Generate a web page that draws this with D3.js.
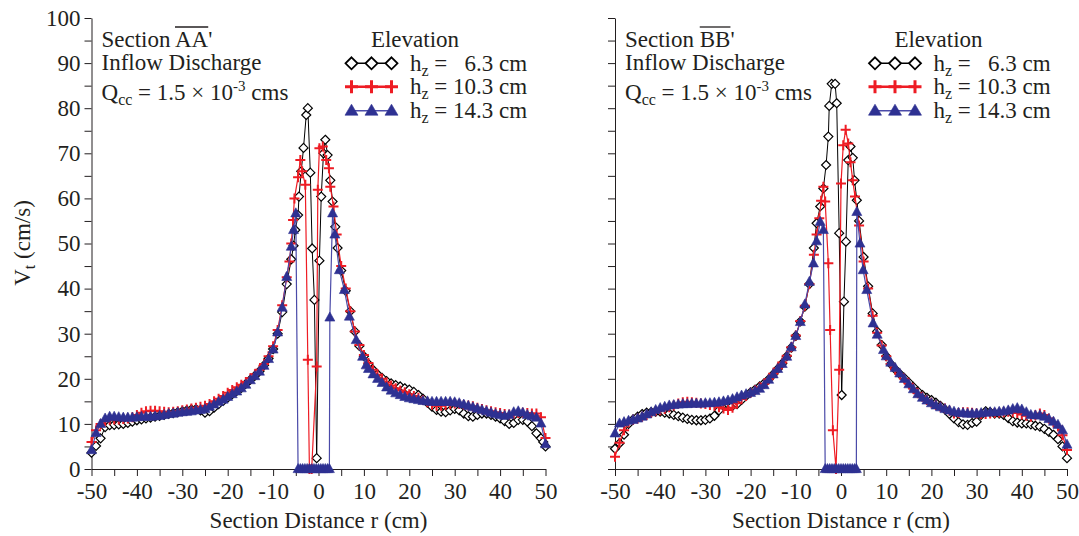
<!DOCTYPE html>
<html>
<head>
<meta charset="utf-8">
<script src="https://cdn.jsdelivr.net/npm/d3@7"></script>
<style>
  body { margin: 0; background: #fff; }
  svg text { font-family: "Liberation Serif", "Times New Roman", serif; fill: #231f20; }
</style>
</head>
<body>
<svg id="chart" width="1079" height="536"></svg>
<script>
// ticks
const xTicks = [-50, -45, -40, -35, -30, -25, -20, -15, -10, -5, 0, 5, 10, 15, 20, 25, 30, 35, 40, 45, 50];
const yTicks = [0, 5, 10, 15, 20, 25, 30, 35, 40, 45, 50, 55, 60, 65, 70, 75, 80, 85, 90, 95, 100];
const elevations = ["  6.3", "10.3", "14.3"];

// Section AA' : [r (cm), Vt (cm/s)]
const aa63 = [[-50,3.6],[-49,5.1],[-48,6.8],[-47,9.3],[-46,9.7],[-45,9.8],[-44,9.9],[-43,10.0],[-42,10.2],[-41,10.5],[-40,10.8],[-39,11.0],[-38,11.2],[-37,11.4],[-36,11.6],[-35,11.8],[-34,12.0],[-33,12.2],[-32,12.4],[-31,12.6],[-30,12.8],[-29,13.0],[-28,13.2],[-27,13.3],[-26,13.0],[-25,12.5],[-24,12.8],[-23,13.6],[-22,14.4],[-21,15.1],[-20,15.8],[-19,16.6],[-18,17.3],[-17,18.0],[-16,18.9],[-15,19.8],[-14,20.7],[-13,21.7],[-12,23.0],[-11,24.5],[-10,26.6],[-9,30.0],[-8,34.8],[-7,41.0],[-6,46.5],[-5.5,49.5],[-5.1,53],[-4.5,56.3],[-4.3,60.4],[-3.8,66],[-3.3,71.2],[-2.7,78.5],[-2.35,80],[-1.8,65.7],[-1.4,48.9],[-0.9,37.5],[-0.4,2.4],[0.2,46.2],[0.6,60.4],[1.1,70],[1.5,73],[2.0,69.6],[2.6,64],[3.1,59.3],[3.7,53.7],[4.2,49],[5,44],[6,39.5],[7,35],[8,30.5],[9,27.3],[10,25],[11,23.3],[12,22],[13,21],[14,20.2],[15,19.5],[16,19],[17,18.6],[18,18.3],[19,17.9],[20,17.6],[21,17.1],[22,16.4],[23,15.6],[24,14.7],[25,13.8],[26,13.1],[27,12.7],[28,12.6],[29,13.0],[30,13.3],[31,13.0],[32,12.3],[33,11.7],[34,11.6],[35,12.0],[36,12.3],[37,12.3],[38,12.0],[39,11.6],[40,11.2],[41,10.6],[42,10.0],[43,10.2],[44,10.9],[45,10.9],[46,10.5],[47,9.5],[48,7.9],[49,6.8],[49.5,6],[50,5]];
const aa103 = [[-50,6.0],[-49,8.6],[-48,10.0],[-47,10.6],[-46,10.9],[-45,11.0],[-44,11.0],[-43,11.1],[-42,11.2],[-41,11.5],[-40,12.0],[-39,12.5],[-38,12.8],[-37,12.9],[-36,12.9],[-35,12.8],[-34,12.7],[-33,12.6],[-32,12.7],[-31,12.8],[-30,13.0],[-29,13.2],[-28,13.4],[-27,13.6],[-26,13.8],[-25,14.0],[-24,14.4],[-23,15.0],[-22,15.6],[-21,16.2],[-20,16.9],[-19,17.5],[-18,18.1],[-17,18.7],[-16,19.3],[-15,20.1],[-14,21.0],[-13,22.0],[-12,23.3],[-11,25.0],[-10,27.2],[-9,30.8],[-8,36.3],[-7,42.5],[-6.4,46],[-6,50],[-5.6,55.2],[-5.3,60],[-4.5,64.7],[-4.0,68.5],[-3.6,66],[-2.9,63],[-2.35,24.2],[-2.0,0],[-1.5,0],[-0.4,22.7],[-0.15,61.9],[0.2,71.1],[0.95,71.5],[1.7,68.5],[2.3,66.7],[2.6,62.6],[3.3,58.2],[4,52],[5,45],[6,40],[7,35],[8,30.5],[9,27.5],[10,25.3],[11,23.5],[12,22],[13,20.9],[14,20],[15,19.2],[16,18.5],[17,17.9],[18,17.4],[19,17.0],[20,16.6],[21,16.2],[22,15.8],[23,15.3],[24,14.8],[25,14.3],[26,14.0],[27,14.0],[28,14.2],[29,14.4],[30,14.5],[31,14.4],[32,14.2],[33,14.1],[34,13.9],[35,13.6],[36,13.3],[37,13.0],[38,12.8],[39,12.6],[40,12.4],[41,12.2],[42,12.1],[43,12.2],[44,12.4],[45,12.5],[46,12.4],[47,12.3],[48,12.3],[49,11.5],[50,6.9]];
const aa143 = [[-50,4.2],[-49,8.0],[-48,10.0],[-47,11.2],[-46,11.6],[-45,11.6],[-44,11.5],[-43,11.4],[-42,11.4],[-41,11.4],[-40,11.5],[-39,11.6],[-38,11.6],[-37,11.6],[-36,11.7],[-35,11.8],[-34,12.0],[-33,12.2],[-32,12.3],[-31,12.5],[-30,12.6],[-29,12.7],[-28,12.8],[-27,13.0],[-26,13.1],[-25,13.3],[-24,13.8],[-23,14.3],[-22,14.9],[-21,15.4],[-20,16.0],[-19,16.6],[-18,17.2],[-17,17.9],[-16,18.7],[-15,19.7],[-14,20.6],[-13,21.6],[-12,22.9],[-11,24.4],[-10,26.5],[-9,30.3],[-8,35.8],[-7,42.6],[-6,49.3],[-5.5,53],[-5,56.7],[-4.5,0],[-4,0],[-3.5,0],[-3,0],[-2.5,0],[-2,0],[-1.5,0],[-1,0],[-0.5,0],[0,0],[0.5,0],[1,0],[1.5,0],[2,0],[2.4,0],[2.5,33.6],[3.1,56.7],[3.6,52],[4.6,44.1],[5.7,39.7],[6.8,33.8],[8.3,28.6],[9.7,24.9],[10.5,23.0],[11,22.2],[12,21.0],[13,20.0],[14,19.1],[15,18.1],[16,17.4],[17,16.8],[18,16.4],[19,16.0],[20,15.7],[21,15.5],[22,15.3],[23,15.1],[24,15.0],[25,14.9],[26,14.9],[27,14.9],[28,14.9],[29,14.9],[30,14.8],[31,14.6],[32,14.3],[33,14.0],[34,13.7],[35,13.4],[36,13.1],[37,12.8],[38,12.5],[39,12.2],[40,12.0],[41,11.8],[42,12.0],[43,12.6],[44,12.8],[45,12.5],[46,12.0],[47,11.7],[48,11.4],[49,10.1],[50,5.5]];

// Section BB'
const bb63 = [[-50,4.5],[-49,5.7],[-48,7.6],[-47,10.0],[-46,11.0],[-45,11.6],[-44,12.2],[-43,12.5],[-42,12.6],[-41,12.7],[-40,12.7],[-39,12.5],[-38,12.3],[-37,12.0],[-36,11.7],[-35,11.4],[-34,11.1],[-33,10.9],[-32,10.8],[-31,10.8],[-30,10.9],[-29,11.2],[-28,11.8],[-27,13.0],[-26,14.3],[-25,14.4],[-24,14.0],[-23,14.4],[-22,15.3],[-21,16.2],[-20,17.0],[-19,17.6],[-18,18.3],[-17,19.0],[-16,19.9],[-15,21.0],[-14,22.2],[-13,23.4],[-12,25.0],[-11,26.9],[-10,29.5],[-9,32.7],[-8,36.0],[-7,41],[-6,49],[-5.4,54.5],[-4.6,58.2],[-3.9,62.2],[-3.3,67.4],[-2.8,73.7],[-2.6,80.5],[-2.05,85.4],[-1.3,85.4],[-0.95,81.1],[-0.4,52.3],[0.15,16.4],[0.65,37.1],[1.1,50.4],[1.6,68.5],[2.1,71.5],[2.6,69],[3.0,64],[3.5,59.6],[4,55],[5,47],[6,40.5],[7,34.5],[8,30.5],[9,27.5],[10,25],[11,23.3],[12,22.1],[13,21.1],[14,20.2],[15,19.2],[16,18.2],[17,17.2],[18,16.4],[19,15.8],[20,15.3],[21,14.7],[22,14.0],[23,13.2],[24,12.2],[25,11.2],[26,10.4],[27,9.9],[28,9.8],[29,10.2],[30,10.5],[31,12.0],[32,12.8],[33,12.6],[34,12.3],[35,12.3],[36,12.0],[37,11.3],[38,10.6],[39,10.3],[40,10.1],[41,10.1],[42,9.9],[43,9.6],[44,9.4],[45,8.9],[46,8.2],[47,7.6],[48,6.6],[49,5.0],[50,2.4]];
const bb103 = [[-50,2.7],[-49,5.8],[-48,8.6],[-47,10.3],[-46,10.9],[-45,11.2],[-44,11.6],[-43,12.0],[-42,12.4],[-41,12.8],[-40,13.0],[-39,13.3],[-38,13.7],[-37,14.1],[-36,14.5],[-35,14.8],[-34,14.9],[-33,14.8],[-32,14.7],[-31,14.5],[-30,14.4],[-29,14.2],[-28,14.0],[-27,13.7],[-26,13.4],[-25,13.1],[-24,13.6],[-23,14.6],[-22,15.5],[-21,16.2],[-20,16.9],[-19,17.5],[-18,18.1],[-17,18.9],[-16,19.9],[-15,21.1],[-14,22.3],[-13,23.6],[-12,25.1],[-11,27.0],[-10,29.6],[-9,32.8],[-8,36.2],[-7,41],[-6,47.5],[-5.4,52],[-4.8,55.6],[-4.4,59.5],[-3.9,62.6],[-3.5,59.3],[-2.8,45.6],[-2.4,30.8],[-1.8,8.6],[-1.1,0],[-0.4,22],[0.0,63.3],[0.5,71.8],[1.03,75.2],[1.6,72.2],[2.1,68],[2.6,64],[3.1,60.4],[4,54],[5,46],[6,40],[7,34],[8,30.2],[9,27.4],[10,25],[11,23.3],[12,22.0],[13,21.0],[14,20.0],[15,18.9],[16,17.8],[17,16.8],[18,16.0],[19,15.3],[20,14.7],[21,14.2],[22,13.8],[23,13.4],[24,12.9],[25,12.3],[26,12.4],[27,12.6],[28,12.6],[29,12.5],[30,12.3],[31,12.2],[32,12.2],[33,12.3],[34,12.4],[35,12.5],[36,12.6],[37,12.7],[38,12.6],[39,12.4],[40,12.1],[41,11.8],[42,11.6],[43,11.9],[44,12.3],[45,12.0],[46,11.2],[47,10.3],[48,9.4],[49,7.5],[50,4.2]];
const bb143 = [[-50,7.9],[-49,10.1],[-48,10.4],[-47,10.7],[-46,10.9],[-45,11.2],[-44,11.6],[-43,12.1],[-42,12.6],[-41,13.1],[-40,13.5],[-39,13.8],[-38,14.1],[-37,14.2],[-36,14.3],[-35,14.4],[-34,14.4],[-33,14.5],[-32,14.5],[-31,14.5],[-30,14.6],[-29,14.6],[-28,14.7],[-27,14.8],[-26,15.0],[-25,15.2],[-24,15.5],[-23,15.9],[-22,16.3],[-21,16.6],[-20,16.9],[-19,17.3],[-18,17.8],[-17,18.6],[-16,19.8],[-15,21.0],[-14,22.2],[-13,23.3],[-12,24.9],[-11,27.0],[-10,29.5],[-9,32.6],[-8,36.5],[-7,41.5],[-6.1,45.6],[-5.4,50.5],[-4.6,54.8],[-3.9,53],[-3.5,0],[-3,0],[-2.5,0],[-2,0],[-1.5,0],[-1,0],[-0.5,0],[0,0],[0.5,0],[1,0],[1.5,0],[2,0],[2.5,0],[3,0],[3.4,0],[3.5,57],[4.2,50],[4.9,44.1],[5.7,39.7],[7.1,32.3],[8,29.8],[9.4,26.4],[10,25.0],[11,23.6],[12,22.4],[13,21.2],[14,20.0],[15,18.8],[16,17.7],[17,16.6],[18,15.8],[19,15.2],[20,14.6],[21,14.1],[22,13.7],[23,13.3],[24,13.0],[25,12.7],[26,12.5],[27,12.4],[28,12.3],[29,12.3],[30,12.3],[31,12.4],[32,12.5],[33,12.6],[34,12.6],[35,12.7],[36,12.8],[37,13.0],[38,13.3],[39,13.5],[40,13.2],[41,12.6],[42,12.0],[43,11.9],[44,11.9],[45,11.6],[46,11.1],[47,10.5],[48,9.8],[49,8.6],[50,5.4]];

const svg = d3.select("#chart");
const plotTop = 18;
const plotH = 451;
const fs = "23px";
const fsSub = "16px";

const styles = [
    { line: "#000", lw: 1, shape: "M0,-4.5L4.5,0L0,4.5L-4.5,0Z", legend: "M0,-6L6,0L0,6L-6,0Z", fill: "#fff", stroke: "#000", sw: 1.2, lsw: 1.8 },
    { line: "#ee1c24", lw: 1.2, shape: "M-5,0H5M0,-5V5", legend: "M-6.5,0H6.5M0,-6.5V6.5", fill: "none", stroke: "#ee1c24", sw: 2, lsw: 3 },
    { line: "#4a4aa8", lw: 1.2, shape: "M0,-5.5L5,3.6L-5,3.6Z", legend: "M0,-6.5L6.5,4.5L-6.5,4.5Z", fill: "#2e3192", stroke: "#2e3192", sw: 0.6, lsw: 0.6 }
];

const panels = [
    { name: "AA", left: 91.5, width: 454, labels: true, series: [aa63, aa103, aa143] },
    { name: "BB", left: 615, width: 452, labels: false, series: [bb63, bb103, bb143] }
];

panels.forEach(p => {
    const g = svg.append("g").attr("transform", `translate(${p.left},${plotTop})`);
    const x = d3.scaleLinear().domain([-50, 50]).range([0, p.width]);
    const y = d3.scaleLinear().domain([0, 100]).range([plotH, 0]);

    // Оси
    const ax = g.append("g")
        .attr("transform", `translate(0,${plotH})`)
        .call(d3.axisBottom(x).tickValues(xTicks).tickSize(7).tickSizeOuter(0).tickPadding(7)
            .tickFormat(d => d % 10 === 0 ? String(d) : ""));
    const ay = g.append("g")
        .call(d3.axisLeft(y).tickValues(yTicks).tickSize(7).tickSizeOuter(0).tickPadding(4)
            .tickFormat(d => (p.labels && d % 10 === 0) ? String(d) : ""));
    [ax, ay].forEach(a => {
        a.attr("font-family", null);
        a.selectAll("text").style("font-size", fs).attr("fill", "#231f20");
        a.selectAll("line, path").attr("stroke", "#231f20");
    });

    g.append("text")
        .attr("x", p.width / 2)
        .attr("y", 510)
        .attr("text-anchor", "middle")
        .style("font-size", fs)
        .text("Section Distance r (cm)");

    // Серии
    const line = d3.line().x(d => x(d[0])).y(d => y(d[1]));
    styles.forEach((s, k) => {
        const data = p.series[k];
        g.append("path").datum(data)
            .attr("d", line)
            .attr("fill", "none")
            .attr("stroke", s.line)
            .attr("stroke-width", s.lw);
        g.append("g").selectAll("path")
            .data(data)
            .join("path")
            .attr("transform", d => `translate(${x(d[0])},${y(d[1])})`)
            .attr("d", s.shape)
            .attr("fill", s.fill)
            .attr("stroke", s.stroke)
            .attr("stroke-width", s.sw);
    });

    // Подписи
    const t1 = g.append("text").attr("x", 10).attr("y", 29).style("font-size", fs)
        .text("Section " + p.name + "'");
    const n = t1.node();
    const pre = n.getSubStringLength(0, 8);
    const w = n.getSubStringLength(8, 2);
    g.append("line")
        .attr("x1", 10 + pre).attr("x2", 10 + pre + w)
        .attr("y1", 9).attr("y2", 9)
        .attr("stroke", "#231f20").attr("stroke-width", 1.3);

    g.append("text").attr("x", 10).attr("y", 52).style("font-size", fs).text("Inflow Discharge");

    const q = g.append("text").attr("x", 10).attr("y", 82).style("font-size", fs).style("white-space", "pre");
    q.append("tspan").text("Q");
    q.append("tspan").attr("dy", 5).style("font-size", fsSub).text("cc");
    q.append("tspan").attr("dy", -5).text(" = 1.5 × 10");
    q.append("tspan").attr("dy", -9).style("font-size", "15px").text("-3");
    q.append("tspan").attr("dy", 9).text(" cms");

    // Легенда
    g.append("text").attr("x", 323.5).attr("y", 29).attr("text-anchor", "middle")
        .style("font-size", fs).text("Elevation");
    const rowsY = [45.3, 68.7, 92.7];
    const mx = [260, 280, 300];
    styles.forEach((s, k) => {
        const ry = rowsY[k];
        g.append("line").attr("x1", mx[0]).attr("x2", mx[2]).attr("y1", ry).attr("y2", ry)
            .attr("stroke", s.line).attr("stroke-width", k === 1 ? 2.4 : 1.4);
        mx.forEach(m => {
            g.append("path").attr("transform", `translate(${m},${ry})`)
                .attr("d", s.legend).attr("fill", s.fill).attr("stroke", s.stroke)
                .attr("stroke-width", s.lsw);
        });
        const tx = g.append("text").attr("x", 318.5).attr("y", ry + 7.5)
            .style("font-size", fs).style("white-space", "pre");
        tx.append("tspan").text("h");
        tx.append("tspan").attr("dy", 5).style("font-size", fsSub).text("z");
        tx.append("tspan").attr("dy", -5).text(" = " + elevations[k] + " cm");
    });
});

// Ось Y
const yl = svg.append("text")
    .attr("transform", "translate(30,243) rotate(-90)")
    .attr("text-anchor", "middle")
    .style("font-size", fs);
yl.append("tspan").text("V");
yl.append("tspan").attr("dy", 5).style("font-size", fsSub).text("t");
yl.append("tspan").attr("dy", -5).text(" (cm/s)");
</script>
</body>
</html>
